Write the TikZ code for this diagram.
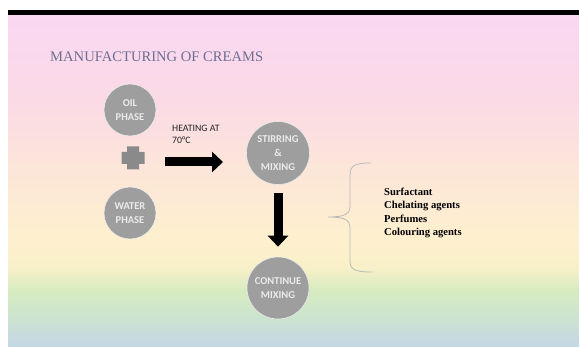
\documentclass[tikz,border=0pt]{standalone}
\usepackage{fontspec}
\setmainfont{Liberation Serif}
\newfontfamily\slidesans{Carlito}
\usetikzlibrary{arrows.meta,calc}

\definecolor{bgA}{RGB}{250,215,242}
\definecolor{bgB}{RGB}{251,218,230}
\definecolor{bgC}{RGB}{252,228,218}
\definecolor{bgD}{RGB}{254,240,206}
\definecolor{bgE}{RGB}{248,240,200}
\definecolor{bgF}{RGB}{215,235,192}
\definecolor{bgG}{RGB}{205,228,205}
\definecolor{bgH}{RGB}{195,215,230}
\definecolor{titleblue}{RGB}{110,112,145}
\definecolor{bubblegray}{RGB}{158,158,158}
\definecolor{plusgray}{RGB}{138,138,138}
\definecolor{bracegray}{RGB}{185,185,185}

\begin{document}
\begin{tikzpicture}
		[x=1pt, y=1pt,
		bubble/.style={circle, fill=bubblegray, draw=white!80!bubblegray, line width=0.6pt, inner sep=0pt, align=center, text=white!92!black, font=\slidesans\bfseries\fontsize{10.5}{14}\selectfont},
		fatarrow/.style={line width=9pt, -{Triangle[width=20pt, length=11pt]}}]
		\useasboundingbox (0,0) rectangle (579,346);
		\fill[white] (0,0) rectangle (579,346);
		% slide background
		\foreach \ya/\yb/\ca/\cb in {331/246/bgA/bgB, 246/186/bgB/bgC, 186/106/bgC/bgD, 106/78/bgD/bgE, 78/56/bgE/bgF, 56/31/bgF/bgG, 31/0/bgG/bgH}
		\shade[top color=\ca, bottom color=\cb] (8,\yb) rectangle (579,\ya);
		\fill[black] (8,331) rectangle (579,336);
		
		\node[anchor=west, inner sep=0pt, text=titleblue, font=\fontsize{14.6}{16}\selectfont](title) at (50,289) {MANUFACTURING OF CREAMS};
		
		\node[bubble, minimum size=52pt](oil) at (130,236) {OIL\\PHASE};
		\node[bubble, minimum size=52pt](water) at (130,133) {WATER\\PHASE};
		\coordinate (plus) at (133,188);
		\fill[plusgray] ($(plus)+(-6,-11.5)$) -- ++(12,0) -- ++(0,5.5) -- ++(5.5,0) -- ++(0,12) -- ++(-5.5,0) -- ++(0,5.5) -- ++(-12,0) -- ++(0,-5.5) -- ++(-5.5,0) -- ++(0,-12) -- ++(5.5,0) -- cycle;
		
		\node[bubble, minimum size=63pt](stir) at (278,193) {STIRRING\\\&\\MIXING};
		\node[bubble, minimum size=62pt](cont) at (278,58) {CONTINUE\\MIXING};
		
		\node[anchor=south west, align=left, inner sep=0pt, text=black!85, font=\slidesans\fontsize{9.8}{12.5}\selectfont](heat) at (172,202) {HEATING AT\\70°C};
		\coordinate (heatS) at (165,184);
		\coordinate (heatE) at (223,184);
		\draw[fatarrow] (heatS) -- (heatE);
		\draw[fatarrow, shorten <=8pt, shorten >=10pt] (stir.south) -- (cont.north);
		
		% additives
		\draw[bracegray, line width=0.8pt] (371,183) .. controls (356,183) and (350,181) .. (350,171) -- (350,140) .. controls (350,132) and (345,129) .. (328,129) .. controls (345,129) and (350,126) .. (350,118) -- (350,85) .. controls (350,76) and (356,74) .. (372,74);
		\node[anchor=west, align=left, inner sep=0pt, font=\bfseries\fontsize{10.6}{13.5}\selectfont](adds) at (384,133) {Surfactant\\Chelating agents\\Perfumes\\Colouring agents};
\end{tikzpicture}
\end{document}
